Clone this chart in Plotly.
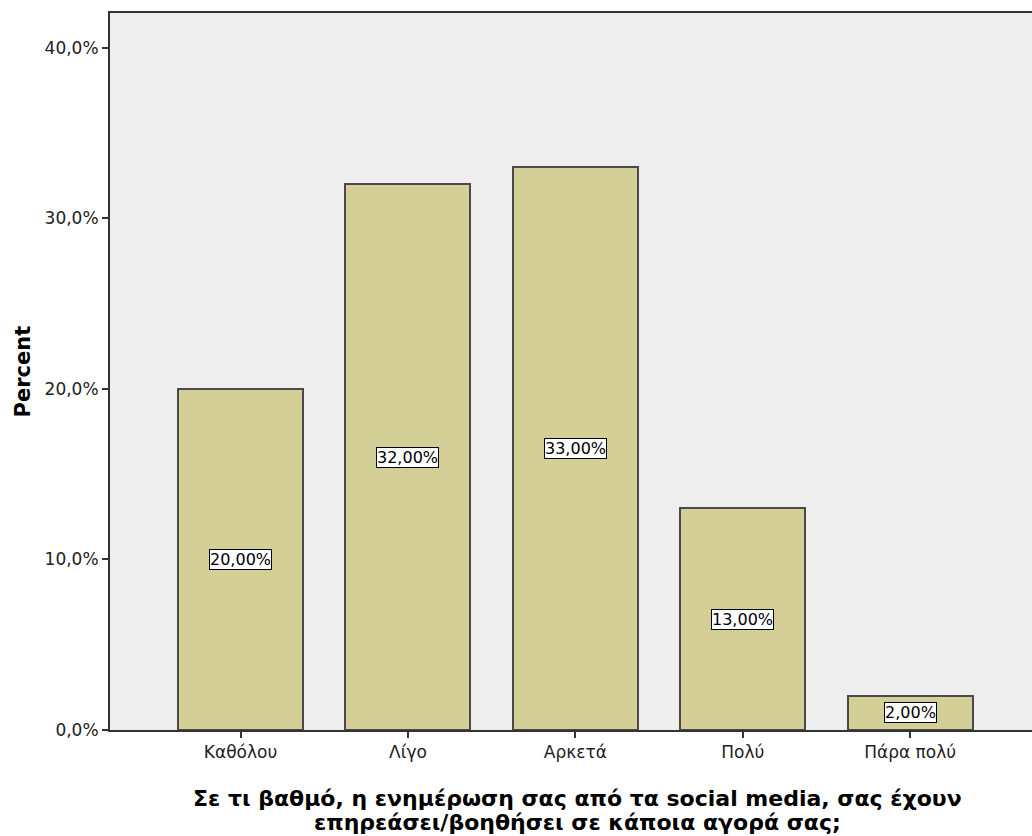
import plotly.graph_objects as go

# Survey responses (percent of respondents)
categories = ["Καθόλου", "Λίγο", "Αρκετά", "Πολύ", "Πάρα πολύ"]
percents = [20.0, 32.0, 33.0, 13.0, 2.0]

y_tick_values = [0, 10, 20, 30, 40]
y_tick_labels = ["0,0%", "10,0%", "20,0%", "30,0%", "40,0%"]

x_title_lines = [
    "Σε τι βαθμό, η ενημέρωση σας από τα social media, σας έχουν",
    "επηρεάσει/βοηθήσει σε κάποια αγορά σας;",
]
y_title = "Percent"

font_family = "DejaVu Sans, Verdana, sans-serif"
xpos = list(range(len(categories)))

fig = go.Figure()
fig.add_trace(go.Bar(
    x=xpos,
    y=percents,
    width=0.747,
    marker=dict(color="#D3CF97", line=dict(color="#4a4a4a", width=2)),
    hoverinfo="skip",
))

# Value labels in white boxes at bar mid-height
for xi, v in zip(xpos, percents):
    fig.add_annotation(
        x=xi, y=v / 2, xref="x", yref="y",
        text=f"{v:.2f}%".replace(".", ","),
        showarrow=False,
        font=dict(family=font_family, size=16, color="#000000"),
        bgcolor="#FFFFFF", bordercolor="#000000", borderwidth=1, borderpad=0,
    )

# Axis titles (bold, tightly spaced two-line category title)
for line, shift in zip(x_title_lines, [-68, -92]):
    fig.add_annotation(
        x=0.507, y=0, xref="paper", yref="paper",
        text="<b>" + line + "</b>",
        showarrow=False, yanchor="middle", yshift=shift,
        font=dict(family=font_family, size=22, color="#000000"),
    )
fig.add_annotation(
    x=0, y=0.5, xref="paper", yref="paper",
    text="<b>" + y_title + "</b>",
    showarrow=False, textangle=-90, xanchor="center", xshift=-88,
    font=dict(family=font_family, size=21, color="#000000"),
)

fig.update_layout(
    width=1032, height=836,
    margin=dict(l=110, r=0, t=13, b=106),
    paper_bgcolor="#FFFFFF",
    plot_bgcolor="#EEEEEE",
    showlegend=False,
    bargap=0,
    font=dict(family=font_family, color="#000000"),
    xaxis=dict(
        range=[-0.78, 4.728],
        tickvals=xpos, ticktext=categories,
        ticks="outside", ticklen=6, tickwidth=2, tickcolor="#333333",
        tickfont=dict(size=17, color="#222222"),
        showline=True, linecolor="#333333", linewidth=2, mirror=True,
        showgrid=False, zeroline=False, fixedrange=True,
    ),
    yaxis=dict(
        range=[0, 42.05],
        tickvals=y_tick_values, ticktext=y_tick_labels,
        ticks="outside", ticklen=6, tickwidth=2, tickcolor="#333333",
        tickfont=dict(size=17, color="#222222"),
        showline=True, linecolor="#333333", linewidth=2,
        showgrid=False, zeroline=False, fixedrange=True,
    ),
)

fig.write_html("out.html")
